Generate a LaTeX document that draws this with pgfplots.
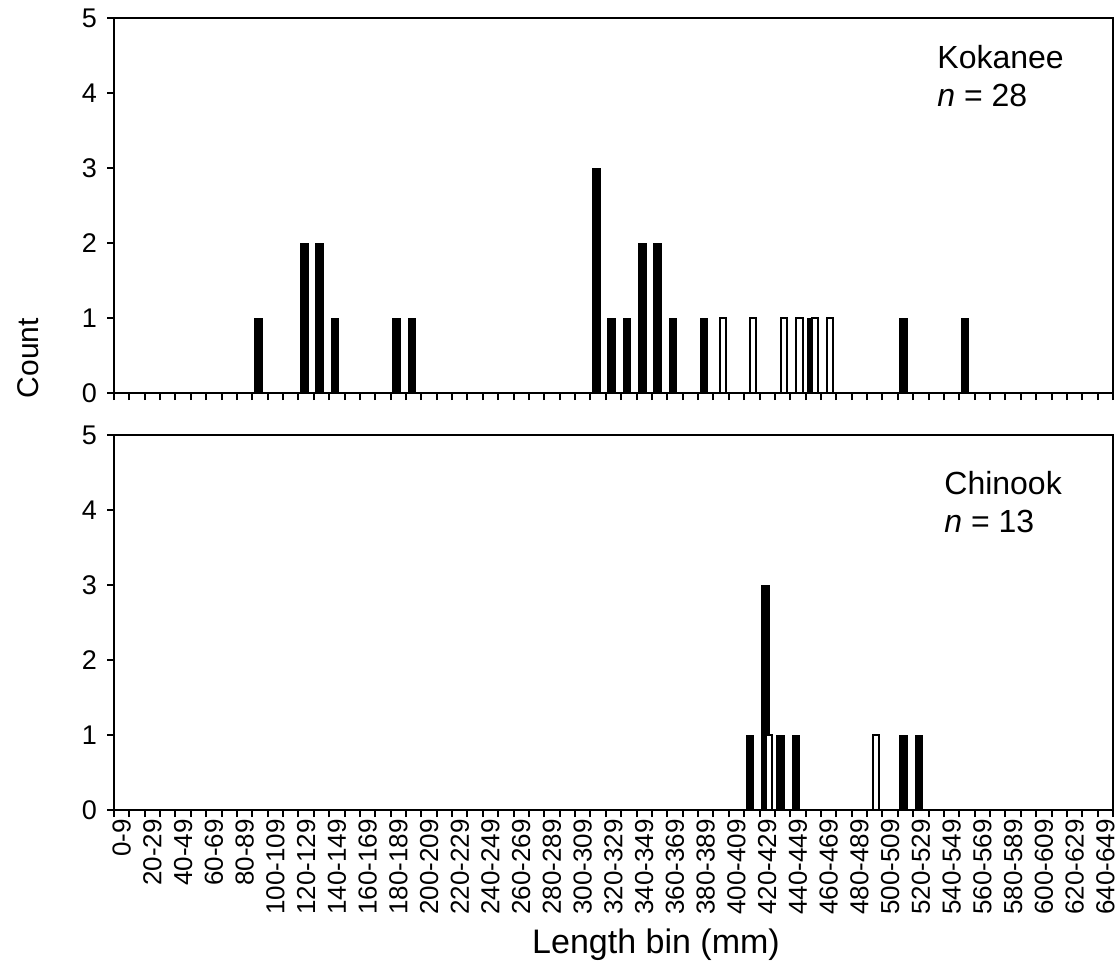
\documentclass[border=0pt]{standalone}
\usepackage{fontspec}
\setmainfont{Liberation Sans}
\usepackage{pgfplots}
\usepackage{pgfplotstable}
\pgfplotsset{compat=1.18}

% bin index: 0 = 0-9, 1 = 10-19, ..., 64 = 640-649
\pgfplotstableread{
x y
9 1
12 2
13 2
14 1
18 1
19 1
31 3
32 1
33 1
34 2
35 2
36 1
38 1
45 1
51 1
55 1
}\kokblack
\pgfplotstableread{
x y
39 1
41 1
43 1
44 1
45 1
46 1
}\kokwhite
\pgfplotstableread{
x y
41 1
42 3
43 1
44 1
51 1
52 1
}\chiblack
\pgfplotstableread{
x y
42 1
49 1
}\chiwhite

\pgfplotsset{
  panel/.style={
    width=499.5pt, height=187.5pt, scale only axis,
    xmin=-0.5, xmax=64.5, ymin=0, ymax=5,
    ytick={0,1,2,3,4,5},
    xtick={-0.5,0.5,...,64.5},
    xticklabels={},
    tick align=outside,
    xtick pos=bottom, ytick pos=left,
    major tick length=3.5pt,
    axis line style={line width=1pt},
    every tick/.style={black, line width=1pt},
    /pgf/number format/assume math mode=true,
    yticklabel style={font=\fontsize{13.5}{15}\selectfont, xshift=-1.5pt},
  },
  blk/.style={ybar, bar width=0.5, bar shift=-0.12, fill=black, draw=black, line width=0.5pt},
  wht/.style={ybar, bar width=0.4, bar shift=0.1, fill=white, draw=black, line width=1pt},
}

\begin{document}
\begin{tikzpicture}
\begin{axis}[panel, at={(57pt,-196.5pt)}, anchor=south west]
  \addplot[blk] table[x=x,y=y] {\kokblack};
  \addplot[wht] table[x=x,y=y] {\kokwhite};
\end{axis}
\begin{axis}[panel, at={(57pt,-405pt)}, anchor=south west,
  extra x ticks={0,2,...,64},
  extra x tick style={major tick length=0pt,
    tick label style={font=\fontsize{13}{15}\selectfont, rotate=90, anchor=east, xshift=-1pt}},
  extra x tick labels={0-9,20-29,40-49,60-69,80-89,100-109,120-129,140-149,160-169,180-189,200-209,220-229,240-249,260-269,280-289,300-309,320-329,340-349,360-369,380-389,400-409,420-429,440-449,460-469,480-489,500-509,520-529,540-549,560-569,580-589,600-609,620-629,640-649}]
  \addplot[blk] table[x=x,y=y] {\chiblack};
  \addplot[wht] table[x=x,y=y] {\chiwhite};
\end{axis}
\node[anchor=north west, align=left, inner sep=0pt, font=\fontsize{16}{19}\selectfont] at (468.5pt,-22.5pt) {Kokanee\\\textit{n} = 28};
\node[anchor=north west, align=left, inner sep=0pt, font=\fontsize{16}{19}\selectfont] at (472pt,-235.5pt) {Chinook\\\textit{n} = 13};
\node[rotate=90, font=\fontsize{15}{17}\selectfont] at (14pt,-179pt) {Count};
\node[font=\fontsize{17}{19}\selectfont] at (328pt,-472.5pt) {Length bin (mm)};
\pgfresetboundingbox
\useasboundingbox (0,0) rectangle (559pt,-485pt);
\end{tikzpicture}
\end{document}
